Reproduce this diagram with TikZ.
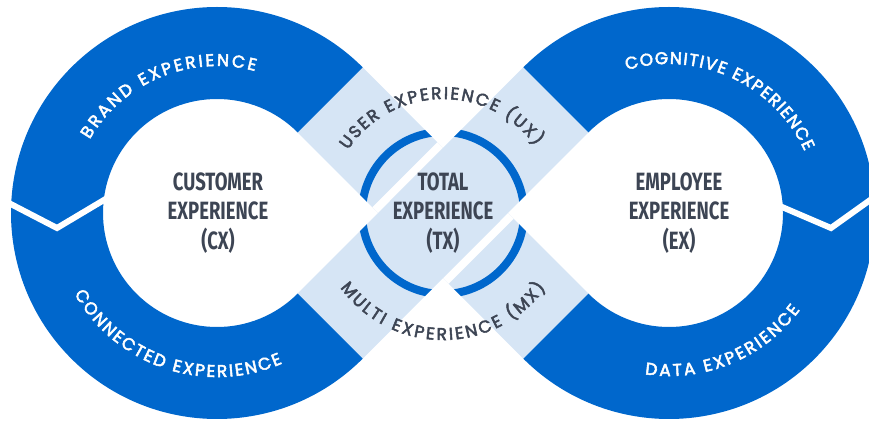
\documentclass[tikz,border=0pt]{standalone}
\usepackage{fontspec}
\usetikzlibrary{calc,decorations.text}
\newfontfamily\arcfont[FakeBold=3]{Poppins}
\newfontfamily\headfont[FakeStretch=0.74]{Fira Sans}
\definecolor{dblue}{RGB}{0,103,204}
\definecolor{lblue}{RGB}{214,229,245}
\definecolor{slate}{RGB}{61,69,84}
\tikzset{
  ringtxt/.style={decorate,decoration={text along path,text align={fit to path},
      text={|\arcfont\fontsize{17}{17}\selectfont\color{white}|#1}}},
  bandtxt/.style={decorate,decoration={text along path,text align={fit to path},
      text={|\arcfont\fontsize{17}{17}\selectfont\color{slate}|#1}}},
  headtxt/.style={font=\headfont\bfseries\fontsize{25}{29.5}\selectfont,
      text=slate,align=center,inner sep=0pt},
  notch/.style={white,line width=6pt,line join=miter},
}

\begin{document}
\begin{tikzpicture}[x=1pt,y=1pt]
  \def\ri{114}  % inner radius of rings
  \def\ro{206}  % outer radius of rings
  \clip (0,0) rectangle (869,420);
  \coordinate (L) at (217,207);
  \coordinate (M) at (443,207);
  \coordinate (R) at (669,207);
  % corners of the two bands
  \coordinate (a1) at ($(L)+(45:\ri)$);
  \coordinate (a2) at ($(L)+(45:\ro)$);
  \coordinate (a3) at ($(R)+(225:\ri)$);
  \coordinate (a4) at ($(R)+(225:\ro)$);
  \coordinate (b1) at ($(L)+(315:\ri)$);
  \coordinate (b2) at ($(L)+(315:\ro)$);
  \coordinate (b3) at ($(R)+(135:\ri)$);
  \coordinate (b4) at ($(R)+(135:\ro)$);
  % lower band, cut by the upper one
  \fill[lblue] (a1) -- (a2) -- (a3) -- (a4) -- cycle;
  \begin{scope}
    \clip (a1) -- (a2) -- (a3) -- (a4) -- cycle;
    \draw[dblue,line width=8pt] (M) circle[radius=81];
    \draw[white,fill=white,line width=16pt] (b1) -- (b2) -- (b3) -- (b4) -- cycle;
  \end{scope}
  % upper band
  \fill[lblue] (b1) -- (b2) -- (b3) -- (b4) -- cycle;
  \begin{scope}
    \clip (b1) -- (b2) -- (b3) -- (b4) -- cycle;
    \draw[dblue,line width=8pt] (M) circle[radius=81];
  \end{scope}
  % the two rings
  \fill[dblue] (a2) arc[start angle=45,end angle=315,radius=\ro] -- (b1)
    arc[start angle=315,end angle=45,radius=\ri] -- cycle;
  \fill[dblue] (a4) arc[start angle=-135,end angle=135,radius=\ro] -- (b3)
    arc[start angle=135,end angle=-135,radius=\ri] -- cycle;
  \draw[notch] (3,220) -- (57,192) -- (109,223);
  \draw[notch] (775,216) -- (831,192) -- (880,227);
  %
  \path[ringtxt=BRAND EXPERIENCE,shift={(L)}] (150:147) arc[start angle=150,end angle=75,radius=147];
  \path[ringtxt=CONNECTED EXPERIENCE,shift={(L)}] (-150.5:164) arc[start angle=-150.5,end angle=-66.5,radius=164];
  \path[ringtxt=COGNITIVE EXPERIENCE,shift={(R)}] (106.5:149) arc[start angle=106.5,end angle=24.5,radius=149];
  \path[ringtxt=DATA EXPERIENCE,shift={(R)}] (-98.5:163) arc[start angle=-98.5,end angle=-36.5,radius=163];
  \path[bandtxt=USER EXPERIENCE (UX),shift={(M)}] (146.5:114) arc[start angle=146.5,end angle=36,radius=114];
  \path[bandtxt=MULTI EXPERIENCE (MX),shift={(M)}] (-144:127) arc[start angle=-144,end angle=-36,radius=127];
  %
  \node[headtxt] (cx) at (218,207) {CUSTOMER\\EXPERIENCE\\(CX)};
  \node[headtxt] (tx) at (443,207) {TOTAL\\EXPERIENCE\\(TX)};
  \node[headtxt] (ex) at (679,207) {EMPLOYEE\\EXPERIENCE\\(EX)};
\end{tikzpicture}
\end{document}
